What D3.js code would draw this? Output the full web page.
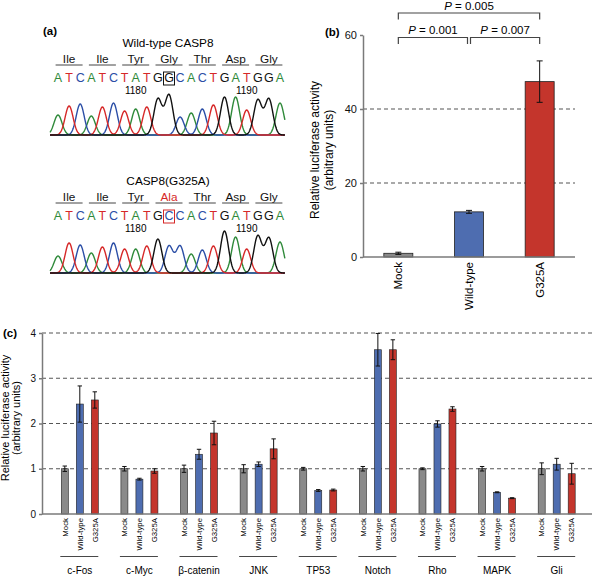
<!DOCTYPE html>
<html><head><meta charset="utf-8">
<script src="https://cdn.jsdelivr.net/npm/d3@7/dist/d3.min.js"></script>
<style>body{margin:0;background:#fff}svg{display:block;font-family:Arial,"Liberation Sans",sans-serif}</style>
</head><body><svg id="c" width="594" height="576"></svg>
<script>
// ---------- DATA ----------
const wtBases = "ATCATCTATGGCACTGATGGA".split("");
const wtPeaks = [20,29,31,19,28,32,24,26,28,36,40,18,22,26,30,38,38,25,35,36,32];
const mutBases = "ATCATCTATGCCACTGATGGA".split("");
const mutPeaks = [17,30,28,20,26,30,24,24,27,34,27,27,19,23,27,42,36,24,37,35,31];
const wtAmino = ["Ile","Ile","Tyr","Gly","Thr","Asp","Gly"];
const mutAmino = ["Ile","Ile","Tyr","Ala","Thr","Asp","Gly"];
const posLabels = [{i:7,t:"1180"},{i:17,t:"1190"}];
const mutIndex = 10;

const bCats = ["Mock","Wild-type","G325A"];
const bValues = [1.0, 12.2, 47.4];
const bErrors = [0.3, 0.4, 5.6];
const bTicks = [0,20,40,60];
const pVals = [{a:0,b:1,t:"0.001",lvl:0},{a:1,b:2,t:"0.007",lvl:0},{a:0,b:2,t:"0.005",lvl:1}];

const cGroups = ["c-Fos","c-Myc","β-catenin","JNK","TP53","Notch","Rho","MAPK","Gli"];
const cSeries = ["Mock","Wild-type","G325A"];
const cMock = [1.0,1.0,1.0,1.0,1.0,1.0,1.0,1.0,1.0];
const cMockErr = [0.06,0.05,0.08,0.09,0.03,0.05,0.02,0.05,0.13];
const cWT = [2.43,0.77,1.32,1.10,0.52,3.63,1.99,0.48,1.10];
const cWTErr = [0.40,0.02,0.11,0.05,0.02,0.36,0.07,0.01,0.13];
const cG = [2.52,0.95,1.79,1.44,0.53,3.63,2.32,0.35,0.89];
const cGErr = [0.18,0.05,0.26,0.22,0.02,0.22,0.05,0.01,0.23];
const cTicks = [0,1,2,3,4];

// ---------- STYLE ----------
const baseCol = {A:"#2f8a3a",T:"#d62828",C:"#2b4ea6",G:"#111"};
const serCol = ["#8a8a8a","#4e6db0","#c4352c"];
const axisCol = "#7a7a7a";
const svg = d3.select("#c");

// ---------- PANEL A ----------
function chromPanel(bases, peaks, amino, title, T, boxCol, aminoCol) {
  const g = svg.append("g");
  const x = d3.scaleLinear().domain([0, bases.length-1]).range([58, 280]);
  g.append("text").attr("x",168).attr("y",T).attr("text-anchor","middle").attr("font-size",11.8).text(title);
  amino.forEach((a,k)=>{
    const cx = x(k*3+1);
    g.append("text").attr("x",cx).attr("y",T+15.5).attr("text-anchor","middle").attr("font-size",11.8)
      .attr("fill", aminoCol && k===3 ? aminoCol : "#111").text(a);
    g.append("line").attr("x1",cx-13.5).attr("x2",cx+13.5).attr("y1",T+18).attr("y2",T+18)
      .attr("stroke","#444").attr("stroke-width",1);
  });
  bases.forEach((b,i)=>{
    g.append("text").attr("x",x(i)).attr("y",T+35).attr("text-anchor","middle").attr("font-size",12.5)
      .attr("fill",baseCol[b]).text(b);
  });
  g.append("rect").attr("x",x(mutIndex)-5.5).attr("y",T+25).attr("width",11).attr("height",13)
    .attr("fill","none").attr("stroke",boxCol).attr("stroke-width",1);
  posLabels.forEach(p=>{
    g.append("text").attr("x",x(p.i)).attr("y",T+46.5).attr("text-anchor","middle").attr("font-size",10).text(p.t);
  });
  const base = T+88;
  const y = d3.scaleLinear().domain([0,45]).range([base, base-45]);
  const ts = d3.range(-0.72, bases.length-1+0.47, 0.04);
  const sig = 0.36;
  ["A","C","T","G"].forEach(ch=>{
    const pts = ts.map(t=>{
      let v = 0;
      bases.forEach((b,i)=>{ if(b===ch) v += peaks[i]*Math.exp(-((t-i)*(t-i))/(2*sig*sig)); });
      return [x(t), y(v)];
    });
    g.append("path").attr("d", d3.line()(pts)).attr("fill","none").attr("stroke",baseCol[ch]).attr("stroke-width",1.4);
  });
}
svg.append("text").attr("x",43).attr("y",35).attr("font-size",11.5).attr("font-weight","bold").text("(a)");
chromPanel(wtBases, wtPeaks, wtAmino, "Wild-type CASP8", 47, "#111", null);
chromPanel(mutBases, mutPeaks, mutAmino, "CASP8(G325A)", 185, "#d62828", "#d62828");

// ---------- PANEL B ----------
(function(){
  const g = svg.append("g");
  const x = d3.scaleBand().domain(bCats).range([363,575]);
  const y = d3.scaleLinear().domain([0,60]).range([257,35]);
  const bw = 29;
  [20,40].forEach(v=>{
    g.append("line").attr("x1",363).attr("x2",575).attr("y1",y(v)).attr("y2",y(v))
      .attr("stroke","#555").attr("stroke-width",1.2).attr("stroke-dasharray","4,3");
  });
  bCats.forEach((c,i)=>{
    const cx = x(c)+x.bandwidth()/2;
    g.append("rect").attr("x",cx-bw/2).attr("y",y(bValues[i])).attr("width",bw).attr("height",y(0)-y(bValues[i]))
      .attr("fill",serCol[i]).attr("stroke","#222").attr("stroke-width",0.8);
    const e1 = y(bValues[i]+bErrors[i]), e0 = y(bValues[i]-bErrors[i]);
    g.append("line").attr("x1",cx).attr("x2",cx).attr("y1",e1).attr("y2",e0).attr("stroke","#111").attr("stroke-width",1);
    [e1,e0].forEach(ev=>g.append("line").attr("x1",cx-3).attr("x2",cx+3).attr("y1",ev).attr("y2",ev).attr("stroke","#111").attr("stroke-width",1));
    g.append("text").attr("transform",`translate(${cx+4},262) rotate(-90)`).attr("text-anchor","end")
      .attr("font-size",11.5).text(c);
  });
  const ax = g.append("g").attr("transform","translate(363,0)").call(d3.axisLeft(y).tickValues(bTicks).tickSize(3).tickSizeOuter(0));
  ax.select(".domain").attr("stroke",axisCol).attr("stroke-width",1.5);
  ax.selectAll(".tick line").attr("stroke",axisCol).attr("stroke-width",1.5);
  ax.selectAll(".tick text").attr("font-size",11).attr("font-family","Arial,Liberation Sans,sans-serif").attr("fill","#111").attr("x",-6);
  g.append("line").attr("x1",363).attr("x2",575).attr("y1",257).attr("y2",257).attr("stroke",axisCol).attr("stroke-width",1.5);
  g.append("text").attr("x",325).attr("y",36).attr("font-size",11.5).attr("font-weight","bold").text("(b)");
  const lab = g.append("text").attr("transform","translate(319,150) rotate(-90)").attr("text-anchor","middle").attr("font-size",12);
  lab.append("tspan").attr("x",0).attr("dy",0).text("Relative luciferase activity");
  lab.append("tspan").attr("x",0).attr("dy",14).text("(arbitrary units)");
  pVals.forEach(p=>{
    const xa = x(bCats[p.a])+x.bandwidth()/2 + (p.lvl===0 && p.a===1 ? 1.5 : 0);
    const xb = x(bCats[p.b])+x.bandwidth()/2 - (p.lvl===0 && p.b===1 ? 1.5 : 0);
    const yl = p.lvl===1 ? 13 : 37.5;
    g.append("path").attr("d",`M${xa},${yl+6.5}V${yl}H${xb}V${yl+6.5}`).attr("fill","none").attr("stroke","#444").attr("stroke-width",1.2);
    const t = g.append("text").attr("x",(xa+xb)/2).attr("y",yl-3.5).attr("text-anchor","middle").attr("font-size",11.5);
    t.append("tspan").attr("font-style","italic").text("P");
    t.append("tspan").text(" = "+p.t);
  });
})();

// ---------- PANEL C ----------
(function(){
  const g = svg.append("g");
  const x0 = d3.scaleBand().domain(cGroups).range([50,586.5]);
  const x1 = d3.scaleBand().domain(cSeries).range([-22.5,22.5]);
  const y = d3.scaleLinear().domain([0,4]).range([514,333]);
  const bw = 7;
  [1,2,3,4].forEach(v=>{
    g.append("line").attr("x1",42).attr("x2",592).attr("y1",y(v)).attr("y2",y(v))
      .attr("stroke","#555").attr("stroke-width",1.1).attr("stroke-dasharray","4,3");
  });
  const vals = [cMock,cWT,cG], errs = [cMockErr,cWTErr,cGErr];
  cGroups.forEach((grp,gi)=>{
    const gc = x0(grp)+x0.bandwidth()/2;
    cSeries.forEach((s,si)=>{
      const cx = gc + x1(s) + x1.bandwidth()/2;
      const v = vals[si][gi], e = errs[si][gi];
      g.append("rect").attr("x",cx-bw/2).attr("y",y(v)).attr("width",bw).attr("height",y(0)-y(v))
        .attr("fill",serCol[si]).attr("stroke","#222").attr("stroke-width",0.6);
      const e1=y(v+e), e0=y(v-e);
      g.append("line").attr("x1",cx).attr("x2",cx).attr("y1",e1).attr("y2",e0).attr("stroke","#111").attr("stroke-width",1);
      [e1,e0].forEach(ev=>g.append("line").attr("x1",cx-2.2).attr("x2",cx+2.2).attr("y1",ev).attr("y2",ev).attr("stroke","#111").attr("stroke-width",1));
      g.append("text").attr("transform",`translate(${cx+2.8},518) rotate(-90)`).attr("text-anchor","end")
        .attr("font-size",7.8).text(s);
    });
    g.append("line").attr("x1",gc-19.5).attr("x2",gc+18.5).attr("y1",556.5).attr("y2",556.5).attr("stroke","#333").attr("stroke-width",0.9);
    g.append("text").attr("x",gc).attr("y",574).attr("text-anchor","middle").attr("font-size",10).text(grp);
  });
  const ax = g.append("g").attr("transform","translate(42,0)").call(d3.axisLeft(y).tickValues(cTicks).tickFormat(d3.format("d")).tickSize(3).tickSizeOuter(0));
  ax.select(".domain").attr("stroke",axisCol).attr("stroke-width",1.5);
  ax.selectAll(".tick line").attr("stroke",axisCol).attr("stroke-width",1.5);
  ax.selectAll(".tick text").attr("font-size",10).attr("font-family","Arial,Liberation Sans,sans-serif").attr("fill","#111").attr("x",-6);
  g.append("line").attr("x1",42).attr("x2",592).attr("y1",514).attr("y2",514).attr("stroke",axisCol).attr("stroke-width",1.5);
  g.append("text").attr("x",3).attr("y",337).attr("font-size",11.5).attr("font-weight","bold").text("(c)");
  const lab = g.append("text").attr("transform","translate(9,418) rotate(-90)").attr("text-anchor","middle").attr("font-size",11);
  lab.append("tspan").attr("x",0).attr("dy",0).text("Relative luciferase activity");
  lab.append("tspan").attr("x",0).attr("dy",11).text("(arbitrary units)");
})();
</script></body></html>
